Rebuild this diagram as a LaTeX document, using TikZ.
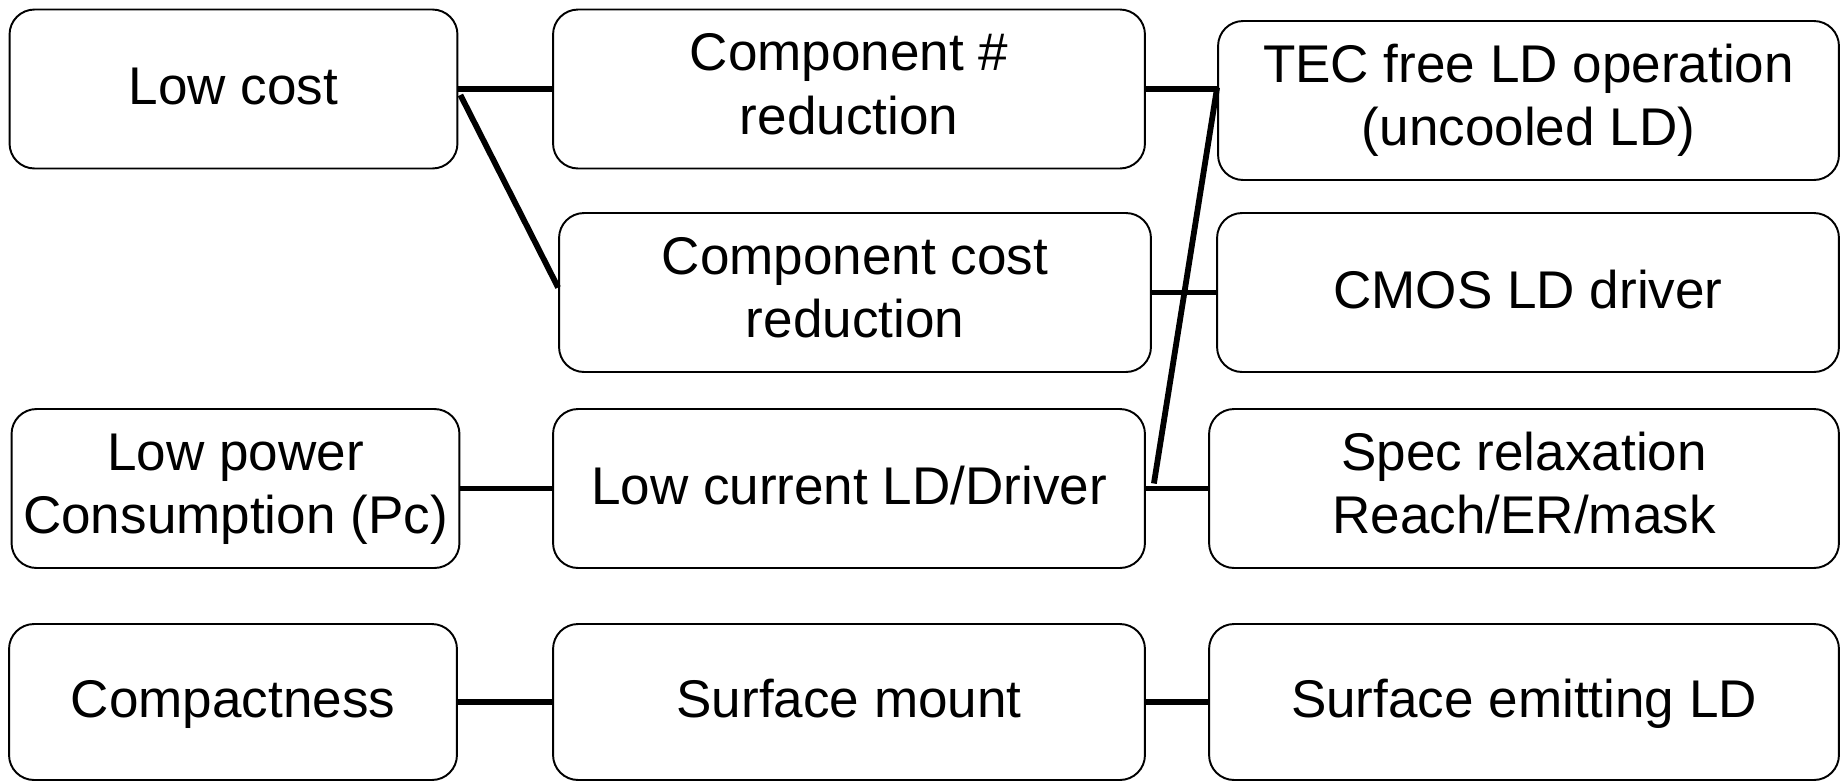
\documentclass[tikz,border=0pt]{standalone}
\usepackage{fontspec}
\setmainfont{Liberation Sans}
\usetikzlibrary{positioning, calc}
\newcommand{\lstrut}{\rule[-10.1pt]{0pt}{38.2pt}}
\newcommand{\rstrut}{\rule[-6.7pt]{0pt}{6.7pt}}
\newcommand{\tstrut}{\rule[-10.1pt]{0pt}{35.6pt}}

\begin{document}
\begin{tikzpicture}[
  x=0.02cm, y=-0.02cm,
  box/.style={draw=black, line width=1.1pt, rounded corners=0.5cm, align=center,
              font=\fontsize{30.2}{36.2}\selectfont, inner sep=0pt,
              minimum height=3.18cm,
              execute at begin node=\lstrut, execute at end node=\rstrut},
  narrow/.style={box, minimum width=8.96cm},
  mid/.style={box, minimum width=11.84cm},
  wide/.style={box, minimum width=12.5cm},
  link/.style={line width=3.3pt, draw=black}
]
\useasboundingbox (0,0) rectangle (1845,782);

% left column
\node[narrow] (lowcost) at (233.5,89) {Low cost};
\node[narrow] (lowpower) at (235.5,488.5) {\tstrut Low power\\Consumption (Pc)\rstrut};
\node[narrow, minimum height=3.12cm] (compact) at (233,702) {Compactness};

% middle column
\node[mid] (compnum) at (849,89) {\tstrut Component \#\\reduction\rstrut};
\node[mid] (compcost) at (855,292.5) {\tstrut Component cost\\reduction\rstrut};
\node[mid] (lowcur) at (849,488.5) {Low current LD/Driver};
\node[mid, minimum height=3.12cm] (surfmount) at (849,702) {Surface mount};

% right column
\node[wide, minimum width=12.42cm] (tec) at (1528.5,100.5) {\tstrut TEC free LD operation\\(uncooled LD)\rstrut};
\node[wide, minimum width=12.44cm] (cmos) at (1528,292.5) {CMOS LD driver};
\node[wide, minimum width=12.6cm] (spec) at (1524,488.5) {\tstrut Spec relaxation\\Reach/ER/mask\rstrut};
\node[wide, minimum width=12.6cm, minimum height=3.12cm] (surfemit) at (1524,702) {Surface emitting LD};

% edges
\draw[link] (lowcost.east) -- (compnum.west);
\draw[link] ($(lowcost.east)+(2,6)$) -- ($(compcost.west)+(0,-5)$);
\draw[link] (compnum.east) -- (tec.west |- compnum.east);
\draw[link] (compcost.east) -- (cmos.west);
\draw[link] ($(lowcur.east)+(8,-5)$) -- ($(tec.west)+(0,-13)$);
\draw[link] (lowpower.east) -- (lowcur.west);
\draw[link] (lowcur.east) -- (spec.west);
\draw[link] (compact.east) -- (surfmount.west);
\draw[link] (surfmount.east) -- (surfemit.west);

\end{tikzpicture}
\end{document}
